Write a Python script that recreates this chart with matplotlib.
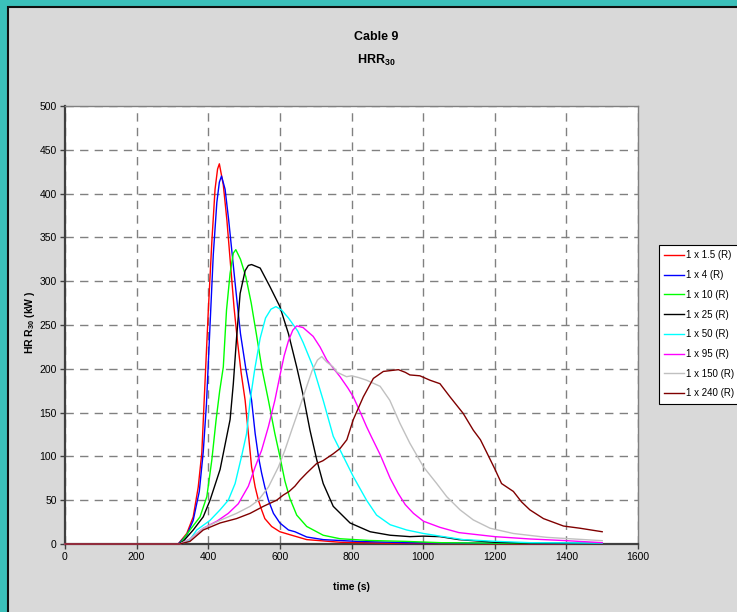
import matplotlib
matplotlib.use('Agg')
import matplotlib.pyplot as plt
import matplotlib.patches as patches

plt.rcParams['font.family'] = 'Liberation Sans'
plt.rcParams['mathtext.fontset'] = 'custom'
plt.rcParams['mathtext.rm'] = 'Liberation Sans'
plt.rcParams['mathtext.bf'] = 'Liberation Sans:bold'

# ---- data (time in s, HRR30 in kW) ----
t_1_5 = [0, 316, 340, 358, 372, 382, 386, 391, 400, 410, 419, 426, 431, 442, 452, 462, 472, 482, 492,
         503, 512, 521, 531, 540, 549, 558, 577, 600, 633, 675, 768, 900, 1100, 1300, 1500]
hrr_1_5 = [0, 0, 12, 31, 65, 104, 140, 185, 265, 345, 405, 428, 434, 410, 370, 320, 270, 230, 195,
           164, 126, 88, 65, 50, 39, 29, 20, 14, 10, 5, 2, 1, 0.5, 0.3, 0.2]

t_4 = [0, 316, 340, 358, 375, 386, 395, 405, 414, 424, 431, 437, 447, 457, 467, 477, 490, 505, 521,
       531, 540, 549, 558, 568, 582, 600, 624, 642, 675, 721, 815, 954, 1100, 1300, 1500]
hrr_4 = [0, 0, 10, 27, 60, 105, 160, 250, 330, 390, 413, 420, 405, 370, 330, 290, 240, 200, 164,
         126, 100, 81, 65, 50, 35, 24, 16, 14, 8, 5, 3, 1.5, 1, 0.7, 0.5]

t_10 = [0, 318, 326, 349, 377, 396, 410, 422, 432, 442, 451, 461, 470, 477, 490, 505, 520, 535, 550,
        568, 586, 600, 614, 628, 647, 675, 721, 768, 850, 950, 1050, 1200, 1500]
hrr_10 = [0, 0, 3, 16, 31, 54, 96, 142, 175, 202, 267, 309, 332, 336, 325, 305, 275, 238, 200,
          164, 126, 100, 72, 52, 33, 20, 10, 6, 4, 3, 1.5, 1, 0.5]

t_25 = [0, 318, 330, 358, 386, 405, 433, 461, 470, 479, 489, 503, 512, 521, 545, 572, 600, 624, 647,
        666, 684, 703, 721, 749, 796, 852, 908, 963, 1000, 1047, 1100, 1200, 1300, 1500]
hrr_25 = [0, 0, 3, 16, 31, 50, 85, 142, 183, 235, 286, 312, 318, 319, 315, 294, 271, 240, 202,
          168, 130, 96, 69, 43, 24, 14, 10, 8.4, 9, 8.4, 5, 2, 1, 0.5]

t_50 = [0, 321, 345, 368, 405, 433, 456, 475, 493, 507, 517, 530, 545, 560, 575, 589, 605, 624, 650,
        665, 693, 721, 749, 777, 805, 842, 870, 908, 954, 1001, 1047, 1112, 1205, 1300, 1500]
hrr_50 = [0, 0, 3, 16, 27, 39, 50, 69, 100, 126, 164, 200, 235, 258, 268, 271, 267, 258, 243,
          230, 202, 164, 123, 100, 77, 50, 33, 22, 16, 12, 9, 5, 3, 1.5, 1]

t_95 = [0, 321, 350, 386, 424, 456, 484, 512, 531, 549, 568, 586, 600, 612, 624, 636, 647, 665, 693,
        712, 731, 768, 790, 805, 825, 842, 856, 880, 908, 930, 950, 973, 1001, 1047, 1100, 1200,
        1300, 1400, 1500]
hrr_95 = [0, 0, 6, 18, 26, 35, 46, 66, 88, 107, 134, 164, 192, 215, 232, 244, 249, 247, 237,
          225, 210, 191, 178, 168, 150, 134, 122, 102, 75, 58, 45, 35, 26, 19, 13, 8.4,
          5.7, 3.8, 1.5]

t_150 = [0, 321, 350, 386, 433, 479, 517, 540, 568, 596, 614, 633, 656, 675, 690, 705, 717, 730,
         749, 760, 786, 800, 820, 842, 880, 907, 935, 963, 1001, 1038, 1066, 1103, 1140, 1187,
         1252, 1345, 1438, 1500]
hrr_150 = [0, 0, 6, 18, 27, 35, 43, 50, 65, 88, 107, 130, 157, 180, 198, 210, 214, 208,
           202, 196, 191, 192, 190, 187, 180, 164, 138, 115, 88, 69, 54, 39, 27.5, 18,
           12, 7.6, 5.3, 3.8]

t_240 = [0, 321, 349, 386, 433, 479, 517, 554, 591, 610, 626, 642, 656, 675, 703, 720, 749, 768,
         787, 805, 833, 861, 889, 931, 950, 963, 991, 1019, 1047, 1075, 1112, 1140, 1160, 1177,
         1201, 1219, 1252, 1275, 1298, 1336, 1392, 1438, 1500]
hrr_240 = [0, 0, 3, 16, 24, 29, 35, 43, 50, 56, 60, 66, 73, 81, 92, 95, 103, 109,
           119, 142, 168, 189, 197, 199, 196, 193, 192, 187, 183, 168, 149, 130, 119, 105,
           85, 69, 60, 48, 39, 29, 20.5, 18, 14]

series_t = [t_1_5, t_4, t_10, t_25, t_50, t_95, t_150, t_240]
series_hrr = [hrr_1_5, hrr_4, hrr_10, hrr_25, hrr_50, hrr_95, hrr_150, hrr_240]
labels = ['1 x 1.5 (R)', '1 x 4 (R)', '1 x 10 (R)', '1 x 25 (R)',
          '1 x 50 (R)', '1 x 95 (R)', '1 x 150 (R)', '1 x 240 (R)']
colors = ['#FF0000', '#0000FF', '#00FF00', '#000000',
          '#00FFFF', '#FF00FF', '#C0C0C0', '#800000']

x_ticks = list(range(0, 1601, 200))
y_ticks = list(range(0, 501, 50))

W, H = 737, 612
fig = plt.figure(figsize=(W / 100, H / 100), dpi=100, facecolor='#3BC0BA')

# grey chart area with dark border (cut off on the right and bottom)
panel = patches.Rectangle((7.5 / W, -0.02), 1.1, (H - 6.5) / H + 0.02, transform=fig.transFigure,
                          facecolor='#D9D9D9', edgecolor='#101010', linewidth=1.5, zorder=-10)
fig.patches.append(panel)

ax = fig.add_axes([65 / W, 1 - 544 / H, (638 - 65) / W, (544 - 106) / H])
ax.set_zorder(1)
ax.set_facecolor('white')

for t, v, lab, c in zip(series_t, series_hrr, labels, colors):
    ax.plot(t, v, color=c, linewidth=1.0, label=lab, zorder=3, clip_on=False)

ax.set_xlim(0, 1600)
ax.set_ylim(0, 500)
ax.set_xticks(x_ticks)
ax.set_yticks(y_ticks)
ax.grid(True, color='#808080', linestyle=(0, (6, 4.5)), linewidth=1.0)
ax.set_axisbelow(True)
ax.tick_params(direction='out', length=3.5, width=1, color='#404040', labelsize=7.5, pad=2.5)
for s in ['left', 'bottom']:
    ax.spines[s].set_color('#404040')
    ax.spines[s].set_linewidth(1.6)
for s in ['top', 'right']:
    ax.spines[s].set_color('#808080')
    ax.spines[s].set_linewidth(1.0)

fig.text(376 / W, 1 - 37 / H, 'Cable 9', ha='center', va='center', fontweight='bold', fontsize=9)
fig.text(376 / W, 1 - 60 / H, r'HRR$_{\mathbf{30}}$', ha='center', va='center',
         fontweight='bold', fontsize=9)
fig.text(30 / W, 1 - 322 / H, r'HR R$_{\mathbf{30}}$ (kW )', rotation=90, ha='center', va='center',
         fontweight='bold', fontsize=7.5)
fig.text(351 / W, 1 - 587 / H, 'time (s)', ha='center', va='center', fontweight='bold', fontsize=7.5)

leg = fig.legend(loc='upper left', bbox_to_anchor=(659 / W, 1 - 245 / H), fontsize=7,
                 frameon=True, fancybox=False, framealpha=1, edgecolor='black',
                 handlelength=2.0, handletextpad=0.2, labelspacing=1.0, borderpad=0.55,
                 borderaxespad=0, handleheight=0.7)
leg.get_frame().set_linewidth(0.8)
leg.set_zorder(5)

fig.savefig('out.png', dpi=100, facecolor=fig.get_facecolor())
